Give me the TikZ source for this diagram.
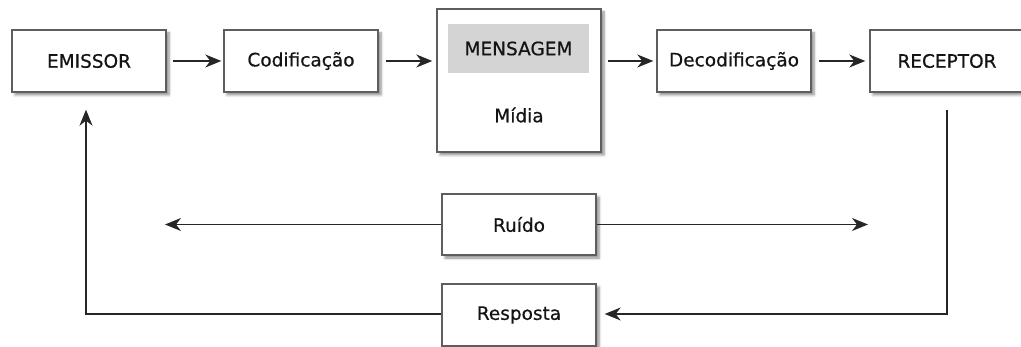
\documentclass[tikz,border=0pt]{standalone}
\usepackage{fontspec}
\setmainfont{DejaVu Sans}
\newfontface\txtfont{DejaVu Sans}[FakeBold=0.6]
\usetikzlibrary{arrows.meta,shadows.blur,calc}
\definecolor{boxline}{HTML}{5E5E5E}
\definecolor{wire}{HTML}{262626}
\definecolor{msgfill}{HTML}{D4D4D4}
\tikzset{
  lbl/.style={font=\txtfont\fontsize{18.5}{22}\selectfont, text=black!92},
  blk/.style={lbl, draw=boxline, line width=1.4pt, fill=white, rectangle,
    minimum width=154pt, minimum height=62pt, inner sep=0pt,
    blur shadow={shadow xshift=3pt, shadow yshift=-3pt, shadow blur steps=6, shadow opacity=45, shadow blur radius=2.5pt}},
  arr/.style={draw=wire, line width=1.3pt, -{Stealth[length=16pt,width=13pt,inset=5pt]}},
}
\begin{document}
\begin{tikzpicture}[x=1pt,y=-1pt]
\useasboundingbox (0,0) rectangle (1021,347);
\clip (0,0) rectangle (1021,347);
\node[blk] (emissor) at (89,61) {EMISSOR};
\node[blk] (codif) at (301,61) {Codificação};
\node[blk, minimum width=164pt, minimum height=143pt] (midia) at (519,80.5) {};
\node[lbl, fill=msgfill, minimum width=141pt, minimum height=49pt, inner sep=0pt] (mensagem) at (518.5,48.5) {MENSAGEM};
\node[lbl] (midiatext) at (519,115) {Mídia};
\node[blk] (decod) at (734,61) {Decodificação};
\node[blk] (receptor) at (947,61) {RECEPTOR};
\node[blk, minimum height=61pt] (ruido) at (519,224.5) {Ruído};
\node[blk] (resposta) at (519,315) {Resposta};
\coordinate (noiseL) at (165,224.5);
\coordinate (noiseR) at (868,224.5);
\draw[arr] ([xshift=6pt]emissor.east) -- ([xshift=-2pt]codif.west);
\draw[arr] ([xshift=7pt]codif.east) -- ([xshift=-4pt]codif.east -| midia.west);
\draw[arr] ([xshift=6pt]midia.east |- decod.west) -- ([xshift=-3pt]decod.west);
\draw[arr] ([xshift=7pt]decod.east) -- ([xshift=-4pt]receptor.west);
\draw[arr] (ruido.west) -- (noiseL);
\draw[arr] (ruido.east) -- (noiseR);
\draw[arr] ([yshift=-17pt]receptor.south) |- ([xshift=8pt,yshift=1pt]resposta.east);
\draw[arr] ([yshift=1pt]resposta.west) -| ([xshift=-3pt,yshift=-17pt]emissor.south);
\end{tikzpicture}
\end{document}
